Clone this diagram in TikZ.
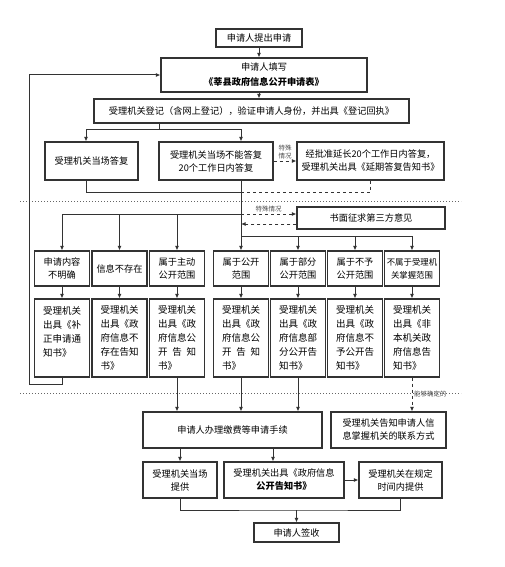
\documentclass[tikz,border=0pt]{standalone}
\usepackage{fontspec}
\setmainfont{Noto Sans CJK SC}
\usetikzlibrary{arrows.meta}

\tikzset{
  box/.style={draw=black!80, line width=1.1pt, align=center, inner sep=1pt,
    font=\fontsize{9.2}{13}\selectfont},
  cell/.style={box, minimum width=55pt},
  note/.style={font=\fontsize{6.5}{7.5}\selectfont, text=black!70, inner sep=1.5pt},
  line/.style={draw=black!80, line width=1pt},
  sep/.style={draw=black!60, dotted, line width=1pt},
}

\begin{document}
\begin{tikzpicture}[x=1pt, y=-1pt, >={Latex[length=4.5pt,width=4pt]}]
    \useasboundingbox (0,0) rectangle (505,567);
    % top part
    \node[box, minimum width=86pt, minimum height=18pt] (start) at (259,38) {申请人提出申请};
    \node[box, minimum width=206pt, minimum height=34pt, font=\fontsize{9.2}{15}\selectfont] (fill) at (264,75)
        {申请人填写\\\textbf{《莘县政府信息公开申请表》}};
    \node[box, minimum width=315pt, minimum height=24pt] (reg) at (251.5,111)
        {受理机关登记（含网上登记），验证申请人身份，并出具《登记回执》};
    \node[box, minimum width=93pt, minimum height=38pt] (now) at (91.5,161) {受理机关当场答复};
    \node[box, minimum width=114pt, minimum height=38pt] (later) at (216,161) {受理机关当场不能答复\\20个工作日内答复};
    \node[box, minimum width=147pt, minimum height=38pt] (extend) at (370.5,161)
        {经批准延长20个工作日内答复，\\受理机关出具《延期答复告知书》};
    \node[box, minimum width=148pt, minimum height=22pt] (third) at (371,218) {书面征求第三方意见};

    % decision row
    \node[cell, minimum height=35pt] (a1) at (62,268.5) {申请内容\\不明确};
    \node[cell, minimum height=35pt] (a2) at (119.5,268.5) {信息不存在};
    \node[cell, minimum height=35pt] (a3) at (177,268.5) {属于主动\\公开范围};
    \node[cell, minimum height=35pt] (a4) at (241,268.5) {属于公开\\范围};
    \node[cell, minimum height=35pt] (a5) at (298,268.5) {属于部分\\公开范围};
    \node[cell, minimum height=35pt] (a6) at (355,268.5) {属于不予\\公开范围};
    \node[cell, minimum height=35pt, font=\fontsize{8.4}{13}\selectfont] (a7) at (412,268.5) {不属于受理机\\关掌握范围};

    % notice row
    \node[cell, minimum height=78pt, align=left, font=\fontsize{9.5}{14}\selectfont] (b1) at (62,338)
        {受理机关\\出具《补\\正申请通\\知书》\\~};
    \node[cell, minimum height=78pt, align=left, font=\fontsize{9.5}{14}\selectfont] (b2) at (119.5,338)
        {受理机关\\出具《政\\府信息不\\存在告知\\书》};
    \node[cell, minimum height=78pt, align=left, font=\fontsize{9.5}{14}\selectfont] (b3) at (177,338)
        {受理机关\\出具《政\\府信息公\\\makebox[4em][s]{开\hfil 告\hfil 知}\\书》};
    \node[cell, minimum height=78pt, align=left, font=\fontsize{9.5}{14}\selectfont] (b4) at (241,338)
        {受理机关\\出具《政\\府信息公\\\makebox[4em][s]{开\hfil 告\hfil 知}\\书》};
    \node[cell, minimum height=78pt, align=left, font=\fontsize{9.5}{14}\selectfont] (b5) at (298,338)
        {受理机关\\出具《政\\府信息部\\分公开告\\知书》};
    \node[cell, minimum height=78pt, align=left, font=\fontsize{9.5}{14}\selectfont] (b6) at (355,338)
        {受理机关\\出具《政\\府信息不\\予公开告\\知书》};
    \node[cell, minimum height=78pt, align=left, font=\fontsize{9.5}{14}\selectfont] (b7) at (412,338)
        {受理机关\\出具《非\\本机关政\\府信息告\\知书》};

    % bottom part
    \node[box, minimum width=179pt, minimum height=36pt] (fee) at (232.5,430) {申请人办理缴费等申请手续};
    \node[box, minimum width=115pt, minimum height=36pt] (contact) at (388.5,430) {受理机关告知申请人信\\息掌握机关的联系方式};
    \node[box, minimum width=74pt, minimum height=36pt] (onsite) at (180,480) {受理机关当场\\提供};
    \node[box, minimum width=120pt, minimum height=36pt] (notice) at (284,480) {受理机关出具《政府信息\\\textbf{公开告知书》}};
    \node[box, minimum width=83pt, minimum height=36pt] (intime) at (400.5,480) {受理机关在规定\\时间内提供};
    \node[box, minimum width=85pt, minimum height=19pt] (sign) at (296.5,532.5) {申请人签收};

    % junction points
    \coordinate (j1) at (159,129);
    \coordinate (nowin) at (86,129);
    \coordinate (latin) at (241,129);
    \coordinate (m1) at (241,192);
    \coordinate (lg) at (241,214);
    \coordinate (tb) at (241,224);
    \coordinate (trunk) at (241,236);
    \coordinate (fb) at (29,384);
    \coordinate (f2) at (273,448);
    \coordinate (m3) at (296.5,510);

    % separators
    \draw[sep] (20,201) -- (461,201);
    \draw[sep] (20,393) -- (461,393);

    % connectors
    \draw[line, ->] (start.south) -- (start.south |- fill.north);
    \draw[line, ->] (fill.south -| start) -- (reg.north -| start);
    \draw[line] (reg.south -| j1) -- (j1);
    \draw[line] (nowin) -- (latin);
    \draw[line, ->] (nowin) -- (nowin |- now.north);
    \draw[line, ->] (latin) -- (latin |- later.north);
    \draw[line, dashed, ->] (later.east) -- (extend.west)
        node[midway, above, note, align=center] {特殊\\情况};
    \draw[line] (now.south -| nowin) |- (m1);
    \draw[line, dashed] (extend.south) |- (m1);
    \draw[line] (later.south -| latin) -- (trunk);
    \draw[line, dashed, ->] (lg) -- (lg -| third.west) node[midway, above, note] {特殊情况};
    \draw[line, dashed, ->] (tb -| third.west) -- (tb);
    \draw[line] (lg) -- (lg -| a1);
    \foreach \n in {a1,a2,a3}
        \draw[line, ->] (lg -| \n) -- (\n.north);
    \draw[line] (trunk) -- (trunk -| a7);
    \foreach \n in {a4,a5,a6,a7}
        \draw[line, ->] (trunk -| \n) -- (\n.north);
    \foreach \i in {1,...,7}
        \draw[line, ->] (a\i.south) -- (b\i.north);
    \draw[line, ->] (b1.south) |- (fb) |- (fill.west);
    \foreach \n in {b3,b4,b5}
        \draw[line, ->] (\n.south) -- (\n.south |- fee.north);
    \draw[line, dashed, ->] (b7.south) -- (b7.south |- contact.north)
        node[midway, right, note] {能够确定的};
    \draw[line, ->] (fee.south -| onsite) -- (onsite.north);
    \draw[line, ->] (f2) -- (f2 |- notice.north);
    \draw[line, ->] (notice.east) -- (notice.east -| intime.west);
    \draw[line] (onsite.south) |- (m3) -| (intime.south);
    \draw[line, ->] (m3) -- (sign.north);
\end{tikzpicture}
\end{document}
